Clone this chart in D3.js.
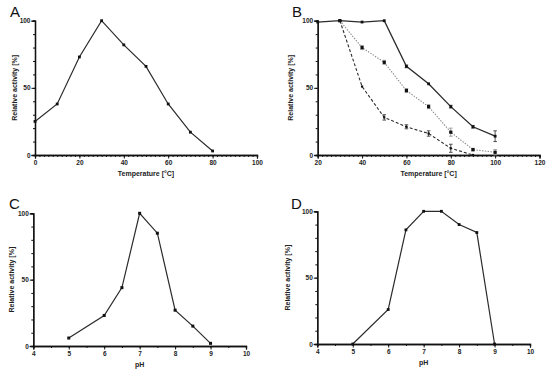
<!DOCTYPE html>
<html>
<head>
<meta charset="utf-8">
<script src="https://cdn.jsdelivr.net/npm/d3@7"></script>
<style>
  body { margin: 0; background: #fff; }
  svg { display: block; font-family: Arial, "Liberation Sans", sans-serif; }
  .tick-label { font-size: 6.5px; font-weight: bold; fill: #222; }
  .axis-title { font-size: 7px; font-weight: bold; fill: #222; }
  .panel-letter { font-size: 15px; fill: #111; }
</style>
</head>
<body>
<div id="chart"></div>
<script>
// Panel A: temperature optimum
const tempA = [0, 10, 20, 30, 40, 50, 60, 70, 80];
const activityA = [25, 38, 73, 100, 82, 66, 38, 17, 3];

// Panel B: thermal stability, three series
const tempB = [20, 30, 40, 50, 60, 70, 80, 90, 100];
const solidB = [99, 100, 99, 100, 66, 53, 36, 21, 14];
const solidErrB = [0, 0, 0, 0, 1, 0, 1, 1, 4];
const tempDotB = [30, 40, 50, 60, 70, 80, 90, 100];
const dottedB = [100, 80, 69, 48, 36, 17, 4, 2];
const dottedErrB = [0, 1.5, 1.5, 1.5, 1.5, 3, 1, 2];
const tempDashB = [30, 40, 50, 60, 70, 80, 90];
const dashedB = [100, 51, 28, 21, 16, 5, 0];
const dashedErrB = [0, 0, 2, 1.5, 2, 3, 0];

// Panel C and D: pH profiles
const phC = [5, 6, 6.5, 7, 7.5, 8, 8.5, 9];
const activityC = [6, 23, 44, 100, 85, 27, 15, 2];
const phD = [5, 6, 6.5, 7, 7.5, 8, 8.5, 9];
const activityD = [0, 26, 86, 100, 100, 90, 84, 0];

const tempTicksA = [0, 20, 40, 60, 80, 100];
const tempTicksB = [20, 40, 60, 80, 100, 120];
const phTicks = [4, 5, 6, 7, 8, 9, 10];
const yTicks = [0, 50, 100];

const lineColor = '#2b2b2b';
const dotColor = '#8a8a8a';

const svg = d3.select('#chart').append('svg')
  .attr('width', 550)
  .attr('height', 373);

function panel(opts) {
  const x = d3.scaleLinear().domain(opts.xDomain).range(opts.xRange);
  const y = d3.scaleLinear().domain([0, 100]).range(opts.yRange);
  const g = svg.append('g');

  // x axis with outward ticks, minor ticks every opts.xMinor
  const xAxis = g.append('g').attr('transform', `translate(0,${opts.yRange[0]})`);
  xAxis.call(d3.axisBottom(x).tickValues(d3.range(opts.xDomain[0], opts.xDomain[1] + 1e-9, opts.xMinor))
    .tickSize(2).tickFormat(''));
  xAxis.append('g').call(d3.axisBottom(x).tickValues(opts.xTicks).tickSize(3.5).tickFormat(d3.format('d')));
  xAxis.selectAll('.domain').attr('stroke', '#111').attr('stroke-width', 1.3);
  xAxis.selectAll('line').attr('stroke', '#111').attr('stroke-width', 1);
  xAxis.selectAll('text').attr('class', 'tick-label').attr('font-family', null).attr('font-size', null)
    .attr('fill', null).attr('dy', '0.9em').attr('y', 4.5);

  const yAxis = g.append('g').attr('transform', `translate(${opts.xRange[0]},0)`);
  yAxis.call(d3.axisLeft(y).tickValues(d3.range(0, 101, 10)).tickSize(2).tickFormat(''));
  yAxis.append('g').call(d3.axisLeft(y).tickValues(yTicks).tickSize(3.5).tickFormat(d3.format('d')));
  yAxis.selectAll('.domain').attr('stroke', '#111').attr('stroke-width', 1.3);
  yAxis.selectAll('line').attr('stroke', '#111').attr('stroke-width', 1);
  yAxis.selectAll('text').attr('class', 'tick-label').attr('font-family', null).attr('font-size', null)
    .attr('fill', null).attr('x', -4.5);

  // titles
  g.append('text').attr('class', 'axis-title')
    .attr('x', (opts.xRange[0] + opts.xRange[1]) / 2 + opts.xTitleShift)
    .attr('y', opts.yRange[0] + 21)
    .attr('text-anchor', 'middle')
    .text(opts.xTitle);
  g.append('text').attr('class', 'axis-title')
    .attr('transform', `translate(${opts.yTitleX},${(opts.yRange[0] + opts.yRange[1]) / 2}) rotate(-90)`)
    .attr('text-anchor', 'middle')
    .text('Relative activity [%]');
  g.append('text').attr('class', 'panel-letter')
    .attr('x', opts.letterX).attr('y', opts.letterY)
    .text(opts.letter);

  // series
  opts.series.forEach(s => {
    const pts = s.xs.map((v, i) => ({ x: v, y: s.ys[i], e: s.err ? s.err[i] : 0 }));
    g.append('path')
      .datum(pts)
      .attr('fill', 'none')
      .attr('stroke', s.color)
      .attr('stroke-width', s.width || 1.2)
      .attr('stroke-dasharray', s.dash || null)
      .attr('d', d3.line().x(d => x(d.x)).y(d => y(d.y)));

    const eb = g.append('g').selectAll('g').data(pts.filter(d => d.e > 0)).enter().append('g')
      .attr('stroke', s.color).attr('stroke-width', 0.8);
    eb.append('line').attr('x1', d => x(d.x)).attr('x2', d => x(d.x))
      .attr('y1', d => y(d.y - d.e)).attr('y2', d => y(d.y + d.e));
    eb.append('line').attr('x1', d => x(d.x) - 1.8).attr('x2', d => x(d.x) + 1.8)
      .attr('y1', d => y(d.y - d.e)).attr('y2', d => y(d.y - d.e));
    eb.append('line').attr('x1', d => x(d.x) - 1.8).attr('x2', d => x(d.x) + 1.8)
      .attr('y1', d => y(d.y + d.e)).attr('y2', d => y(d.y + d.e));

    g.append('g').selectAll('rect').data(pts).enter().append('rect')
      .attr('x', d => x(d.x) - s.marker / 2)
      .attr('y', d => y(d.y) - s.marker / 2)
      .attr('width', s.marker)
      .attr('height', s.marker)
      .attr('fill', s.markerColor || '#111');
  });
}

panel({
  letter: 'A', letterX: 10, letterY: 17,
  xDomain: [0, 100], xRange: [35, 257], yRange: [155, 20.7],
  xTicks: tempTicksA, xMinor: 2,
  xTitle: 'Temperature [°C]', xTitleShift: 0, yTitleX: 17,
  series: [{ xs: tempA, ys: activityA, color: lineColor, marker: 2.8 }]
});

panel({
  letter: 'B', letterX: 292, letterY: 17,
  xDomain: [20, 120], xRange: [317.7, 539.5], yRange: [155, 20.7],
  xTicks: tempTicksB, xMinor: 2,
  xTitle: 'Temperature [°C]', xTitleShift: 0, yTitleX: 293,
  series: [
    { xs: tempB, ys: solidB, err: solidErrB, color: lineColor, marker: 2.8, width: 1.3 },
    { xs: tempDotB, ys: dottedB, err: dottedErrB, color: dotColor, marker: 3.2, dash: '1.4,1.4', width: 1.1 },
    { xs: tempDashB, ys: dashedB, err: dashedErrB, color: lineColor, marker: 2.2, dash: '3,2', width: 1.1 }
  ]
});

panel({
  letter: 'C', letterX: 9, letterY: 209,
  xDomain: [4, 10], xRange: [33.3, 246], yRange: [346, 213.3],
  xTicks: phTicks, xMinor: 0.5,
  xTitle: 'pH', xTitleShift: 0, yTitleX: 14,
  series: [{ xs: phC, ys: activityC, color: lineColor, marker: 3 }]
});

panel({
  letter: 'D', letterX: 291, letterY: 209,
  xDomain: [4, 10], xRange: [317.3, 530], yRange: [344, 211.3],
  xTicks: phTicks, xMinor: 0.5,
  xTitle: 'pH', xTitleShift: 0, yTitleX: 290,
  series: [{ xs: phD, ys: activityD, color: lineColor, marker: 2.8 }]
});
</script>
</body>
</html>
